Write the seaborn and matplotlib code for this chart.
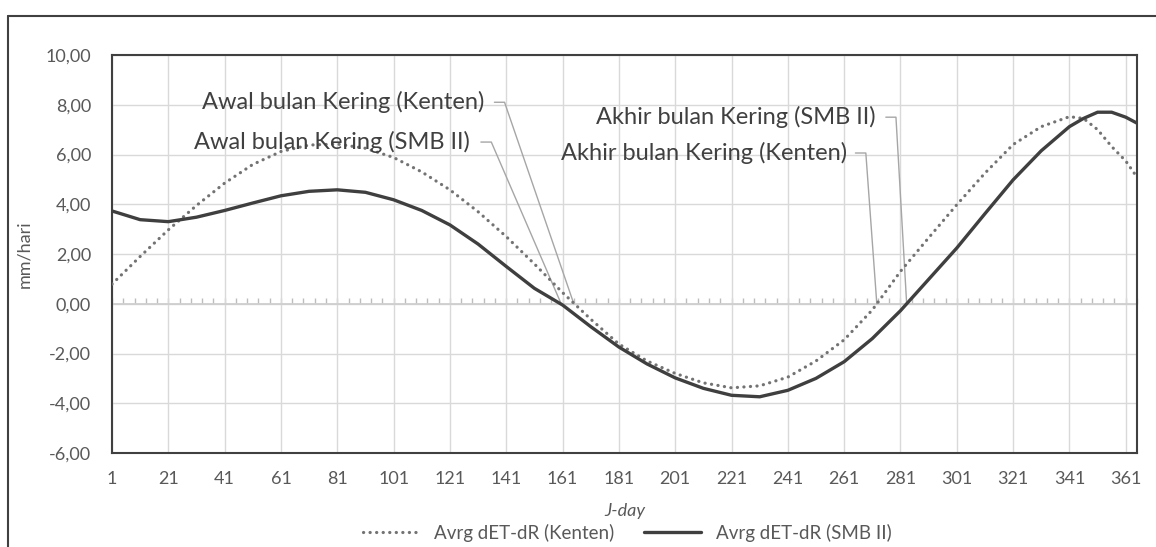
import matplotlib
matplotlib.use("Agg")
import matplotlib.pyplot as plt
from matplotlib.lines import Line2D
from matplotlib.ticker import FuncFormatter
import seaborn as sns
import pandas as pd

# Julian day of each sample
days = [1, 11, 21, 31, 41, 51, 61, 71, 81, 91, 101, 111, 121, 131, 141, 151,
        161, 171, 181, 191, 201, 211, 221, 231, 241, 251, 261, 271, 281, 291,
        301, 311, 321, 331, 341, 346, 351, 356, 361, 365]

# Average dET - dR (mm/hari), Kenten station
kenten = [0.79, 1.90, 2.97, 3.95, 4.85, 5.60, 6.12, 6.38, 6.42, 6.25, 5.88,
          5.30, 4.58, 3.70, 2.70, 1.60, 0.45, -0.62, -1.62, -2.30, -2.80,
          -3.18, -3.38, -3.30, -2.95, -2.30, -1.45, -0.25, 1.30, 2.65, 3.98,
          5.25, 6.40, 7.12, 7.52, 7.45, 7.00, 6.32, 5.74, 5.09]

# Average dET - dR (mm/hari), SMB II station
smb = [3.73, 3.38, 3.30, 3.48, 3.75, 4.05, 4.34, 4.52, 4.58, 4.48, 4.18,
       3.75, 3.17, 2.40, 1.50, 0.62, -0.05, -0.92, -1.74, -2.42, -2.98,
       -3.40, -3.68, -3.74, -3.48, -3.00, -2.33, -1.40, -0.28, 0.98, 2.24,
       3.62, 4.98, 6.15, 7.12, 7.45, 7.70, 7.70, 7.50, 7.26]

label_kenten = "Avrg dET-dR (Kenten)"
label_smb = "Avrg dET-dR (SMB II)"

x_ticks = list(range(1, 366, 20))
y_ticks = list(range(-6, 11, 2))

# Start / end of the dry season (zero crossings) for each station
awal_kenten_day, awal_smb_day = 165, 160.5
akhir_kenten_day, akhir_smb_day = 272.6, 283.2

sns.set_theme(style="white")
plt.rcParams["font.family"] = ["Lato", "DejaVu Sans"]

W, H = 1156, 547
fig = plt.figure(figsize=(W / 100, H / 100), dpi=100)
L, R, T, B = 112, 1137, 55, 453
ax = fig.add_axes([L / W, 1 - B / H, (R - L) / W, (B - T) / H])

df = pd.DataFrame({"day": days, label_kenten: kenten, label_smb: smb})

grid_c = "#d9d9d9"
ax.set_xlim(1, 365)
ax.set_ylim(-6, 10)
ax.set_xticks(x_ticks)
ax.set_yticks(y_ticks)
ax.grid(True, color=grid_c, lw=1.0)
ax.set_axisbelow(True)

# zero line with small ticks every 4 days
ax.axhline(0, color="#cfcfcf", lw=1.3, zorder=1)
sec = ax.secondary_xaxis(6 / 16)
sec.set_xticks(list(range(1, 366, 4)))
sec.tick_params(axis="x", direction="in", length=4, width=1, color="#bdbdbd",
                bottom=True, labelbottom=False)
sec.spines["bottom"].set_visible(False)

dot_style = dict(color="#737373", lw=2.3, linestyle=(0, (0.05, 2.0)),
                 dash_capstyle="round")
solid_style = dict(color="#3f3f3f", lw=2.4)

sns.lineplot(data=df, x="day", y=label_kenten, ax=ax, label=label_kenten,
             legend=False, zorder=3, **dot_style)
sns.lineplot(data=df, x="day", y=label_smb, ax=ax, label=label_smb,
             legend=False, zorder=4, **solid_style)

fmt = FuncFormatter(lambda v, p: f"{v:.2f}".replace(".", ","))
ax.yaxis.set_major_formatter(fmt)
ax.tick_params(axis="both", length=0, labelsize=13, labelcolor="#595959")
ax.tick_params(axis="x", pad=13)
ax.tick_params(axis="y", pad=15)

for s in ax.spines.values():
    s.set_visible(True)
    s.set_color("#404040")
    s.set_linewidth(1.5)

ax.set_ylabel("mm/hari", fontsize=13, color="#595959")
ax.yaxis.set_label_coords((32 - L) / (R - L), 0.5)
ax.set_xlabel("J-day", fontsize=13, color="#595959", style="italic")
ax.xaxis.set_label_coords(0.5, (B - 511) / (B - T))
ax.xaxis.label.set_va("center")

# callouts for the start and end of the dry season
lead_c = "#a6a6a6"
ann_kw = dict(fontsize=17, color="#404040", ha="right", va="center", zorder=5)
callouts = [
    ("Awal bulan Kering (Kenten)", 133.3, 8.1, 136.8, 140.4, awal_kenten_day),
    ("Awal bulan Kering (SMB II)", 128.0, 6.5, 132.0, 135.7, awal_smb_day),
    ("Akhir bulan Kering (SMB II)", 272.3, 7.5, 275.8, 279.4, akhir_smb_day),
    ("Akhir bulan Kering (Kenten)", 262.0, 6.06, 265.0, 268.7, akhir_kenten_day),
]
for text, tx, ty, lx0, lx1, cross in callouts:
    ax.text(tx, ty, text, **ann_kw)
    ax.plot([lx0, lx1, cross], [ty, ty, 0], color=lead_c, lw=1.0, zorder=2)

handles = [Line2D([], [], **dot_style), Line2D([], [], **solid_style)]
fig.legend(handles, [label_kenten, label_smb], loc="center",
           bbox_to_anchor=(627 / W, 1 - 533 / H), ncol=2, frameon=False,
           fontsize=13.5, labelcolor="#595959", handlelength=3.0,
           handletextpad=0.8, columnspacing=1.6)

# outer chart frame (left and top edges)
frame_c = "#404040"
fig.add_artist(Line2D([8 / W, 8 / W], [0, 1 - 15.5 / H], transform=fig.transFigure,
                      color=frame_c, lw=1.5))
fig.add_artist(Line2D([8 / W, 1], [1 - 15.5 / H, 1 - 15.5 / H],
                      transform=fig.transFigure, color=frame_c, lw=1.5))

fig.savefig("out.png", dpi=100, facecolor="white")
